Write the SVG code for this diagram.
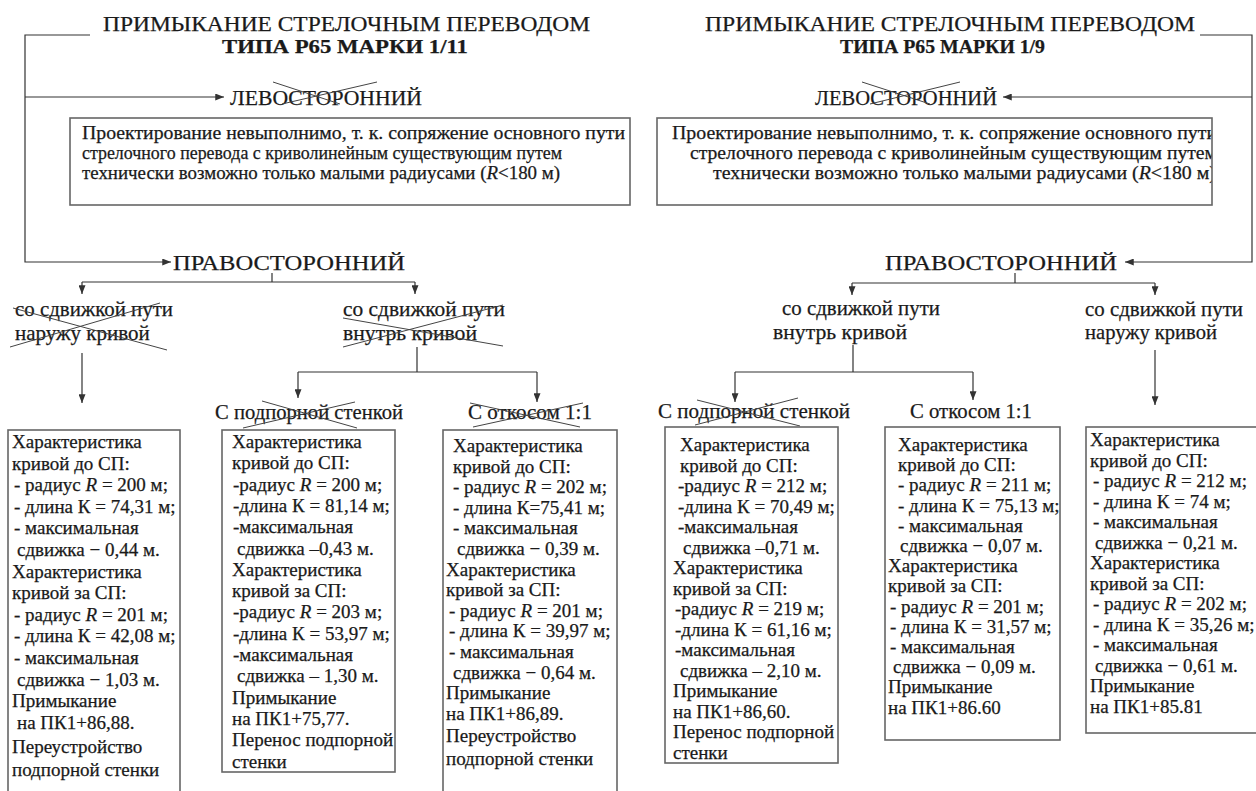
<svg xmlns="http://www.w3.org/2000/svg" width="1256" height="791" viewBox="0 0 1256 791" font-family="'Liberation Serif','DejaVu Serif',serif">
<defs>
<marker id="arr" markerUnits="userSpaceOnUse" viewBox="0 0 10 8" markerWidth="9" markerHeight="7" refX="10" refY="4" orient="auto"><path d="M0,0 L10,4 L0,8 z" fill="#333"/></marker>
<clipPath id="clipR"><rect x="657" y="118" width="555" height="87"/></clipPath>
</defs>
<style>
text{font-family:"Liberation Serif","DejaVu Serif",serif;fill:#1a1a1a;stroke:#1a1a1a;stroke-width:0.25}
.t1{font-size:22px}
.t2{font-size:19px;font-weight:bold}
.h{font-size:22px}
.b{font-size:18px}
.s{font-size:19px}
.l{font-size:21px}
.box{fill:none;stroke:#666;stroke-width:1.6}
.ln{fill:none;stroke:#333;stroke-width:1.2}
.a{fill:none;stroke:#333;stroke-width:1.2;marker-end:url(#arr)}
.x{fill:none;stroke:#444;stroke-width:1}
.i{font-style:italic}
</style>
<rect width="1256" height="791" fill="#fff"/>

<g id="title-left">
<text class="t1" x="103" y="31" textLength="487" lengthAdjust="spacingAndGlyphs">ПРИМЫКАНИЕ СТРЕЛОЧНЫМ ПЕРЕВОДОМ</text>
<text class="t2" x="222" y="53" textLength="246" lengthAdjust="spacingAndGlyphs">ТИПА Р65 МАРКИ 1/11</text>
</g>
<g id="title-right">
<text class="t1" x="705" y="31" textLength="490" lengthAdjust="spacingAndGlyphs">ПРИМЫКАНИЕ СТРЕЛОЧНЫМ ПЕРЕВОДОМ</text>
<text class="t2" x="840" y="53" textLength="205" lengthAdjust="spacingAndGlyphs">ТИПА Р65 МАРКИ 1/9</text>
</g>

<g id="left-levo">
<text class="h" x="230" y="105" textLength="192" lengthAdjust="spacingAndGlyphs">ЛЕВОСТОРОННИЙ</text>
<path class="x" d="M273,82 L340,104 M282,104 L377,82"/>
</g>
<g id="right-levo">
<text class="h" x="815" y="105" textLength="182" lengthAdjust="spacingAndGlyphs">ЛЕВОСТОРОННИЙ</text>
<path class="x" d="M862,82 L930,104 M870,104 L960,82"/>
</g>

<g id="box-left-top">
<rect class="box" x="70" y="118" width="560" height="87"/>
<text class="b" x="82" y="139" textLength="543" lengthAdjust="spacingAndGlyphs">Проектирование  невыполнимо, т. к. сопряжение основного пути</text>
<text class="b" x="82" y="159" textLength="480" lengthAdjust="spacingAndGlyphs">стрелочного перевода с криволинейным существующим путем</text>
<text class="b" x="82" y="179" textLength="478" lengthAdjust="spacingAndGlyphs">технически возможно только малыми  радиусами (<tspan class="i">R</tspan>&lt;180 м)</text>
</g>
<g id="box-right-top">
<g clip-path="url(#clipR)">
<text class="b" x="672" y="139" textLength="545" lengthAdjust="spacingAndGlyphs">Проектирование  невыполнимо, т. к. сопряжение основного пути</text>
<text class="b" x="690" y="159" textLength="527" lengthAdjust="spacingAndGlyphs">стрелочного перевода с криволинейным существующим путем</text>
<text class="b" x="713" y="179" textLength="503" lengthAdjust="spacingAndGlyphs">технически возможно только малыми  радиусами (<tspan class="i">R</tspan>&lt;180 м)</text>
</g>
<rect class="box" x="657" y="118" width="555" height="87"/>
</g>

<g id="left-pravo">
<text class="h" x="173" y="270" textLength="232" lengthAdjust="spacingAndGlyphs">ПРАВОСТОРОННИЙ</text>
</g>
<g id="right-pravo">
<text class="h" x="885" y="270" textLength="232" lengthAdjust="spacingAndGlyphs">ПРАВОСТОРОННИЙ</text>
</g>

<g id="left-out">
<text class="l" x="15" y="316" textLength="158" lengthAdjust="spacingAndGlyphs">со сдвижкой пути</text>
<text class="l" x="15" y="340">наружу кривой</text>
<path class="x" d="M13,308 L167,350 M10,347 L160,303"/>
</g>
<g id="left-in">
<text class="l" x="343" y="316" textLength="162" lengthAdjust="spacingAndGlyphs">со сдвижкой пути</text>
<text class="l" x="343" y="340" textLength="134" lengthAdjust="spacingAndGlyphs">внутрь кривой</text>
<path class="x" d="M343,318 L503,346 M343,347 L503,305"/>
</g>
<g id="right-in">
<text class="l" x="782" y="315" textLength="158" lengthAdjust="spacingAndGlyphs">со сдвижкой пути</text>
<text class="l" x="773" y="339" textLength="134" lengthAdjust="spacingAndGlyphs">внутрь кривой</text>
</g>
<g id="right-out">
<text class="l" x="1085" y="316" textLength="158" lengthAdjust="spacingAndGlyphs">со сдвижкой пути</text>
<text class="l" x="1085" y="339" textLength="132" lengthAdjust="spacingAndGlyphs">наружу кривой</text>
</g>

<g id="left-wall">
<text class="l" x="215" y="419" textLength="188" lengthAdjust="spacingAndGlyphs">С подпорной стенкой</text>
<path class="x" d="M243,428 L355,402 M262,401 L357,428"/>
</g>
<g id="left-slope">
<text class="l" x="468" y="419" textLength="124" lengthAdjust="spacingAndGlyphs">С откосом 1:1</text>
<path class="x" d="M470,403 L580,427 M473,427 L583,403"/>
</g>
<g id="right-wall">
<text class="l" x="658" y="418" textLength="192" lengthAdjust="spacingAndGlyphs">С подпорной стенкой</text>
<path class="x" d="M695,425 L798,398 M697,400 L800,426"/>
</g>
<g id="right-slope">
<text class="l" x="910" y="418" textLength="122" lengthAdjust="spacingAndGlyphs">С откосом 1:1</text>
</g>

<g id="connectors">
<path class="a" d="M90,35 H25 V262 H171"/>
<path class="a" d="M25,97 H224"/>
<path class="ln" d="M272,273 V282 M82,282 H415"/>
<path class="a" d="M82,282 V294"/>
<path class="a" d="M415,282 V294"/>
<path class="a" d="M82,353 V403"/>
<path class="ln" d="M417,347 V372 M298,372 H537"/>
<path class="a" d="M298,372 V398"/>
<path class="a" d="M537,372 V402"/>
<path class="a" d="M1200,35 H1252 V262 H1125"/>
<path class="a" d="M1252,97 H1003"/>
<path class="ln" d="M1015,273 V283 M852,283 H1155"/>
<path class="a" d="M852,283 V295"/>
<path class="a" d="M1155,283 V295"/>
<path class="ln" d="M853,345 V372 M735,372 H973"/>
<path class="a" d="M735,372 V402"/>
<path class="a" d="M973,372 V400"/>
<path class="a" d="M1155,350 V405"/>
</g>

<g id="box1">
<rect class="box" x="8" y="430" width="172" height="370"/>
<text class="s" x="12" y="448">Характеристика</text>
<text class="s" x="12" y="469.6">кривой до СП:</text>
<text class="s" x="14" y="491.2">- радиус <tspan class="i">R</tspan> = 200 м;</text>
<text class="s" x="14" y="512.8">- длина К = 74,31 м;</text>
<text class="s" x="14" y="534.4">- максимальная</text>
<text class="s" x="17" y="556">сдвижка − 0,44 м.</text>
<text class="s" x="12" y="577.6">Характеристика</text>
<text class="s" x="12" y="599.2">кривой за СП:</text>
<text class="s" x="14" y="620.8">- радиус <tspan class="i">R</tspan> = 201 м;</text>
<text class="s" x="14" y="642.4">- длина К = 42,08 м;</text>
<text class="s" x="14" y="664">- максимальная</text>
<text class="s" x="17" y="685.6">сдвижка − 1,03 м.</text>
<text class="s" x="12" y="707.2">Примыкание</text>
<text class="s" x="17" y="728.8">на ПК1+86,88.</text>
<text class="s" x="12" y="753">Переустройство</text>
<text class="s" x="12" y="776">подпорной стенки</text>
</g>

<g id="box2">
<rect class="box" x="222" y="430" width="173" height="342"/>
<text class="s" x="232" y="448">Характеристика</text>
<text class="s" x="232" y="469.3">кривой до СП:</text>
<text class="s" x="233" y="490.6">-радиус <tspan class="i">R</tspan> = 200 м;</text>
<text class="s" x="233" y="511.9">-длина К = 81,14 м;</text>
<text class="s" x="233" y="533.2">-максимальная</text>
<text class="s" x="237" y="554.5">сдвижка –0,43 м.</text>
<text class="s" x="232" y="575.8">Характеристика</text>
<text class="s" x="232" y="597.1">кривой за СП:</text>
<text class="s" x="233" y="618.4">-радиус <tspan class="i">R</tspan> = 203 м;</text>
<text class="s" x="233" y="639.7">-длина К = 53,97 м;</text>
<text class="s" x="233" y="661">-максимальная</text>
<text class="s" x="237" y="682.3">сдвижка – 1,30 м.</text>
<text class="s" x="232" y="703.6">Примыкание</text>
<text class="s" x="232" y="724.9">на ПК1+75,77.</text>
<text class="s" x="232" y="746.2">Перенос подпорной</text>
<text class="s" x="232" y="767.5">стенки</text>
</g>

<g id="box3">
<rect class="box" x="443" y="430" width="174" height="370"/>
<text class="s" x="453" y="452">Характеристика</text>
<text class="s" x="453" y="472.6">кривой до СП:</text>
<text class="s" x="453" y="493.2">- радиус <tspan class="i">R</tspan> = 202 м;</text>
<text class="s" x="453" y="513.8">- длина К=75,41 м;</text>
<text class="s" x="453" y="534.4">- максимальная</text>
<text class="s" x="457" y="555">сдвижка − 0,39 м.</text>
<text class="s" x="446" y="575.6">Характеристика</text>
<text class="s" x="446" y="596.2">кривой за СП:</text>
<text class="s" x="449" y="616.8">- радиус <tspan class="i">R</tspan> = 201 м;</text>
<text class="s" x="449" y="637.4">- длина К = 39,97 м;</text>
<text class="s" x="449" y="658">- максимальная</text>
<text class="s" x="453" y="678.6">сдвижка − 0,64 м.</text>
<text class="s" x="446" y="699.2">Примыкание</text>
<text class="s" x="446" y="719.8">на ПК1+86,89.</text>
<text class="s" x="446" y="742">Переустройство</text>
<text class="s" x="446" y="765">подпорной стенки</text>
</g>

<g id="box4">
<rect class="box" x="665" y="427" width="173" height="336"/>
<text class="s" x="680" y="451">Характеристика</text>
<text class="s" x="680" y="471.5">кривой до СП:</text>
<text class="s" x="678" y="492">-радиус <tspan class="i">R</tspan> = 212 м;</text>
<text class="s" x="678" y="512.5">-длина К = 70,49 м;</text>
<text class="s" x="678" y="533">-максимальная</text>
<text class="s" x="683" y="553.5">сдвижка –0,71 м.</text>
<text class="s" x="673" y="574">Характеристика</text>
<text class="s" x="673" y="594.5">кривой за СП:</text>
<text class="s" x="675" y="615">-радиус <tspan class="i">R</tspan> = 219 м;</text>
<text class="s" x="675" y="635.5">-длина К = 61,16 м;</text>
<text class="s" x="675" y="656">-максимальная</text>
<text class="s" x="680" y="676.5">сдвижка – 2,10 м.</text>
<text class="s" x="673" y="697">Примыкание</text>
<text class="s" x="673" y="717.5">на ПК1+86,60.</text>
<text class="s" x="673" y="738">Перенос подпорной</text>
<text class="s" x="673" y="758.5">стенки</text>
</g>

<g id="box5">
<rect class="box" x="885" y="427" width="175" height="313"/>
<text class="s" x="898" y="451">Характеристика</text>
<text class="s" x="898" y="471.2">кривой до СП:</text>
<text class="s" x="898" y="491.4">- радиус <tspan class="i">R</tspan> = 211 м;</text>
<text class="s" x="898" y="511.6">- длина К = 75,13 м;</text>
<text class="s" x="898" y="531.8">- максимальная</text>
<text class="s" x="900" y="552">сдвижка − 0,07 м.</text>
<text class="s" x="888" y="572.2">Характеристика</text>
<text class="s" x="888" y="592.4">кривой за СП:</text>
<text class="s" x="890" y="612.6">- радиус <tspan class="i">R</tspan> = 201 м;</text>
<text class="s" x="890" y="632.8">- длина К = 31,57 м;</text>
<text class="s" x="890" y="653">- максимальная</text>
<text class="s" x="893" y="673.2">сдвижка − 0,09 м.</text>
<text class="s" x="888" y="693.4">Примыкание</text>
<text class="s" x="888" y="713.6">на ПК1+86.60</text>
</g>

<g id="box6">
<rect class="box" x="1086" y="427" width="176" height="306"/>
<text class="s" x="1090" y="446">Характеристика</text>
<text class="s" x="1090" y="466.5">кривой до СП:</text>
<text class="s" x="1093" y="487">- радиус <tspan class="i">R</tspan> = 212 м;</text>
<text class="s" x="1093" y="507.5">- длина К = 74 м;</text>
<text class="s" x="1093" y="528">- максимальная</text>
<text class="s" x="1095" y="548.5">сдвижка − 0,21 м.</text>
<text class="s" x="1090" y="569">Характеристика</text>
<text class="s" x="1090" y="589.5">кривой за СП:</text>
<text class="s" x="1093" y="610">- радиус <tspan class="i">R</tspan> = 202 м;</text>
<text class="s" x="1093" y="630.5">- длина К = 35,26 м;</text>
<text class="s" x="1093" y="651">- максимальная</text>
<text class="s" x="1095" y="671.5">сдвижка − 0,61 м.</text>
<text class="s" x="1090" y="692">Примыкание</text>
<text class="s" x="1090" y="712.5">на ПК1+85.81</text>
</g>
</svg>
